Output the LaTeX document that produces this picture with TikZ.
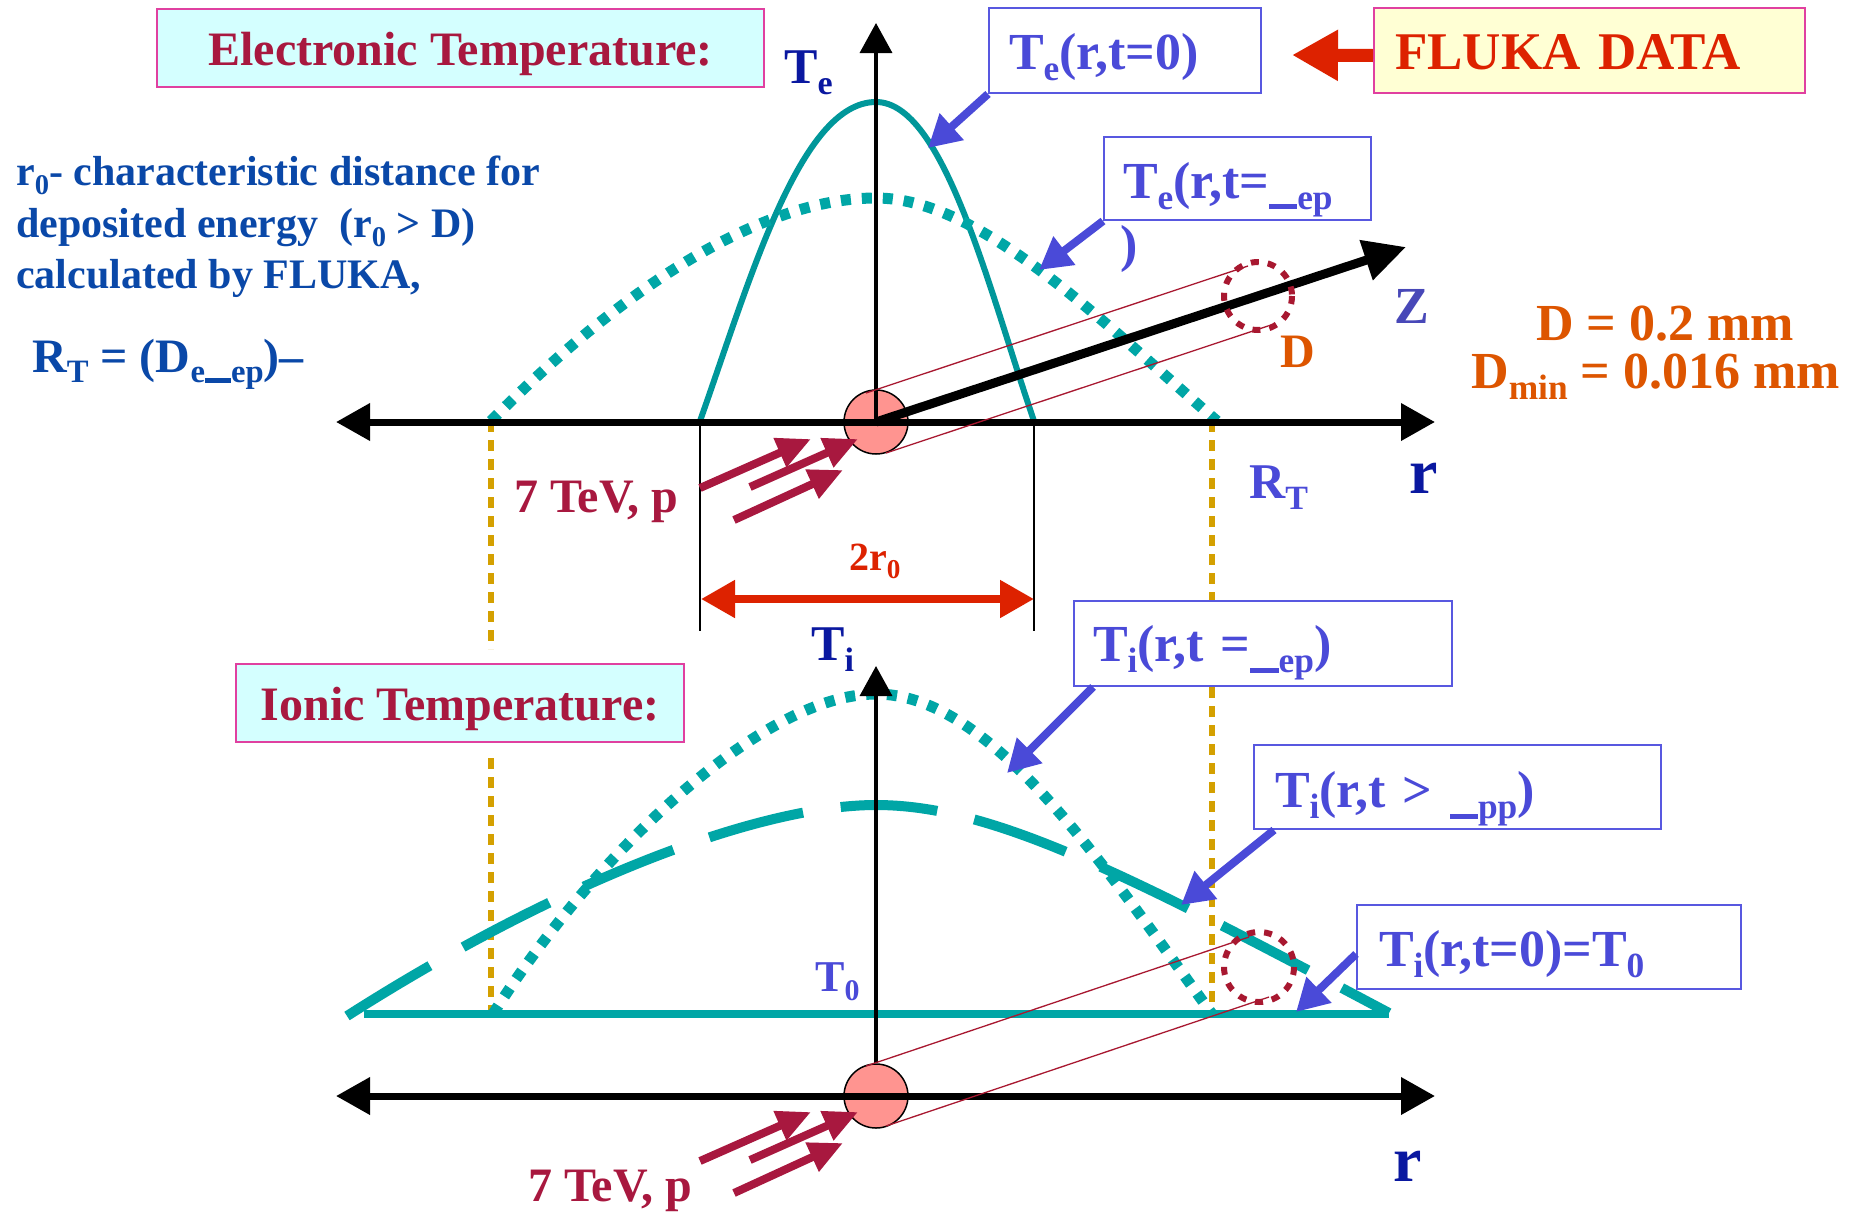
\documentclass[tikz,border=0pt]{standalone}
\usepackage{fontspec}
\setmainfont{Liberation Serif}
\usepackage{graphicx}
\usetikzlibrary{arrows.meta}
\definecolor{tealA}{HTML}{00979A}
\definecolor{tealB}{HTML}{00A6A6}
\definecolor{bluetext}{HTML}{4A4AD8}
\definecolor{boxblue}{HTML}{5858E0}
\definecolor{navy}{HTML}{0A18A0}
\definecolor{zblue}{HTML}{4848B8}
\definecolor{leftblue}{HTML}{0A48A8}
\definecolor{crimson}{HTML}{A8183F}
\definecolor{orangeD}{HTML}{DD5500}
\definecolor{redF}{HTML}{DD2200}
\definecolor{pinkc}{HTML}{FF9490}
\definecolor{magborder}{HTML}{E040A0}
\definecolor{cyanfill}{HTML}{D4FFFF}
\definecolor{yellfill}{HTML}{FFFFD4}
\definecolor{goldc}{HTML}{D4A000}
\definecolor{darkred}{HTML}{A81830}
\newcommand\mysub[1]{\raisebox{-0.22em}{\scalebox{0.68}{#1}}}
\newcommand\fsz[1]{\fontsize{#1}{#1}\selectfont\bfseries}
\newcommand\tbar{\rule{0.8em}{0.14em}}
\begin{document}
\begin{tikzpicture}[x=1pt,y=-1pt,
  lbl/.style={inner sep=0pt, anchor=base west},
  bluebox/.style={draw=boxblue, line width=2pt, fill=white, text=bluetext, anchor=north west, align=left, inner xsep=20pt, inner ysep=0pt, font=\fsz{52}, text height=38pt, text depth=0pt},
  pinkbox/.style={draw=magborder, line width=2pt, fill=cyanfill, text=crimson, anchor=north west, inner sep=0pt, font=\fsz{48}, text height=34pt, text depth=0pt},
  golddot/.style={goldc, line width=6pt, dash pattern=on 11pt off 8pt},
  tealdot/.style={tealB, line width=11pt, dash pattern=on 10pt off 11pt},
  tealdash/.style={tealB, line width=10pt, dash pattern=on 97pt off 38pt},
  callout/.style={bluetext, line width=8pt, -{Triangle[length=32pt,width=34pt]}},
  beam/.style={crimson, line width=8pt, -{Triangle[length=34pt,width=30pt]}},
  bigaxis/.style={black, line width=7pt, {Triangle[length=34pt,width=36pt]}-{Triangle[length=34pt,width=36pt]}},
  vaxis/.style={black, line width=3.5pt, -{Triangle[length=30pt,width=32pt]}},
  thinred/.style={darkred, line width=1.3pt},
  dcirc/.style={darkred, line width=6pt, dash pattern=on 8pt off 9pt},
  origin/.style={circle, draw=black, fill=pinkc, minimum size=64pt, inner sep=0pt, line width=1.5pt}
]
\fill[white] (0,0) rectangle (1867,1213);
\useasboundingbox (0,0) rectangle (1867,1213);

% coordinates
\coordinate (uL) at (336,422);
\coordinate (uR) at (1435,422);
\coordinate (lL) at (336,1096);
\coordinate (lR) at (1435,1096);
\coordinate (teTip) at (876,23);
\coordinate (tiTip) at (876,666);
\coordinate (zTip) at (1406,247);

% yellow dotted guides
\draw[golddot] (491,421) -- (491,649);
\draw[golddot] (491,758) -- (491,1012);
\draw[golddot] (1212,421) -- (1212,1013);

% upper curves
\draw[tealA, line width=6pt] (700,421) .. controls (750,280) and (800,102) .. (876,102) .. controls (944,102) and (989,290) .. (1034,421);
\draw[tealdot] (491,421) .. controls (620,290) and (760,198) .. (876,198) .. controls (980,198) and (1100,320) .. (1217,421);

% lower curves
\draw[tealB, line width=8pt] (364,1014) -- (1389,1014);
\draw[tealdash] (347,1016) .. controls (560,880) and (760,805) .. (876,805) .. controls (990,805) and (1120,870) .. (1389,1013);
\draw[tealdot] (493,1014) .. controls (590,860) and (760,694) .. (876,694) .. controls (990,694) and (1100,860) .. (1212,1014);

% 2r0 guides
\draw[line width=1.2pt] (700,421) -- (700,631);
\draw[line width=1.2pt] (1034,421) -- (1034,631);
\coordinate (rA) at (701,599);
\coordinate (rB) at (1034,599);
\draw[redF, line width=8pt, {Triangle[length=34pt,width=36pt]}-{Triangle[length=34pt,width=36pt]}] (rA) -- (rB);

% boxes
\node[pinkbox, minimum width=607pt, minimum height=78pt] (elbox) at (156,8) {Electronic Temperature:};
\node[pinkbox, minimum width=448pt, minimum height=78pt] (ionbox) at (235,663) {Ionic Temperature:};
\node[draw=magborder, line width=2pt, fill=yellfill, text=redF, anchor=north west, align=left, inner xsep=21pt, inner ysep=0pt, font=\fsz{53}, text height=37pt, text depth=0pt, text width=389pt, minimum height=85pt] (fl) at (1373,7) {FLUKA DATA};
\node[bluebox, text width=232pt, minimum height=85pt, text height=37pt] (b1) at (988,7) {T\mysub{e}(r,t=0)};
\node[bluebox, text width=229pt, minimum height=83pt, inner xsep=19pt, text height=39pt] (b2) at (1103,136) {T\mysub{e}(r,t=\mysub{\tbar ep}};
\node[bluebox, text width=340pt, minimum height=85pt, inner xsep=19pt, text height=36pt] (b3) at (1073,600) {T\mysub{i}(r,t =\mysub{\tbar ep})};
\node[bluebox, text width=365pt, minimum height=84pt, inner xsep=21pt, text height=41pt] (b4) at (1253,744) {T\mysub{i}(r,t > \mysub{\tbar pp})};
\node[bluebox, text width=340pt, minimum height=84pt, inner xsep=22pt] (b5) at (1356,904) {T\mysub{i}(r,t=0)=T\mysub{0}};

% FLUKA arrow
\coordinate (ftip) at (1292,55);
\draw[redF, line width=13pt, -{Triangle[length=46pt,width=48pt]}] ([yshift=-5pt]fl.west) -- (ftip);

% callout arrows
\coordinate (c1) at (928,148);
\coordinate (c2) at (1039,270);
\coordinate (c3) at (1007,773);
\coordinate (c4) at (1181,905);
\coordinate (c5) at (1296,1012);
\draw[callout] (b1.south west) -- (c1);
\draw[callout] (b2.south west) -- (c2);
\draw[callout] ([xshift=20pt]b3.south west) -- (c3);
\draw[callout] ([xshift=21pt]b4.south west) -- (c4);
\draw[callout] ([yshift=-7pt]b5.west) -- (c5);

% upper axes
\node[origin] (o1) at (876,422) {};
\draw[bigaxis] (uL) -- (uR);
\draw[vaxis] (o1.center) -- (teTip);
\draw[black, line width=9pt, -{Triangle[length=42pt,width=40pt]}] (o1.center) -- (zTip);
\coordinate (ua1) at (866,393); \coordinate (ua2) at (1248,266);
\coordinate (ub1) at (886,453); \coordinate (ub2) at (1268,326);
\draw[thinred] (ua1) -- (ua2);
\draw[thinred] (ub1) -- (ub2);
\draw[dcirc] (1258,296) circle (34);

% lower axes
\node[origin] (o2) at (876,1096) {};
\draw[bigaxis] (lL) -- (lR);
\draw[vaxis] (o2.north) -- (tiTip);
\coordinate (la1) at (866,1066); \coordinate (la2) at (1249,937);
\coordinate (lb1) at (886,1126); \coordinate (lb2) at (1269,997);
\draw[thinred] (la1) -- (la2);
\draw[thinred] (lb1) -- (lb2);
\draw[dcirc] (1259,967) circle (35);

% beams
\coordinate (p1s) at (700,488); \coordinate (p1e) at (811,439);
\coordinate (p2s) at (750,487); \coordinate (p2e) at (858,439);
\coordinate (p3s) at (734,520); \coordinate (p3e) at (843,470);
\draw[beam] (p1s) -- (p1e);
\draw[beam] (p2s) -- (p2e);
\draw[beam] (p3s) -- (p3e);
\coordinate (q1s) at (700,1161); \coordinate (q1e) at (811,1112);
\coordinate (q2s) at (750,1160); \coordinate (q2e) at (858,1112);
\coordinate (q3s) at (734,1193); \coordinate (q3e) at (843,1143);
\draw[beam] (q1s) -- (q1e);
\draw[beam] (q2s) -- (q2e);
\draw[beam] (q3s) -- (q3e);

% labels
\node[lbl, text=navy, font=\fsz{50}] (teL) at (784,83) {T\mysub{e}};
\node[lbl, text=navy, font=\fsz{50}] (tiL) at (811,660) {T\mysub{i}};
\node[lbl, text=leftblue, font=\fsz{42}] (t1) at (16,185) {r\mysub{0}- characteristic distance for};
\node[lbl, text=leftblue, font=\fsz{42}] (t2) at (16,237) {deposited energy~~(r\mysub{0} > D)};
\node[lbl, text=leftblue, font=\fsz{42}] (t3) at (16,288) {calculated by FLUKA,};
\node[lbl, text=leftblue, font=\fsz{48}] (rt) at (32,372) {R\mysub{T} = (D\mysub{e\tbar ep})\textendash};
\node[lbl, text=zblue, font=\fsz{52}] (zL) at (1394,323) {Z};
\node[lbl, text=orangeD, font=\fsz{48}] (dL) at (1280,367) {D};
\node[lbl, text=orangeD, font=\fsz{52}] (d1) at (1536,340) {D = 0.2 mm};
\node[lbl, text=orangeD, font=\fsz{52}] (d2) at (1471,388) {D\mysub{min} = 0.016 mm};
\node[lbl, text=crimson, font=\fsz{48}] (pl1) at (514,512) {7 TeV, p};
\node[lbl, text=crimson, font=\fsz{48}] (pl2) at (528,1201) {7 TeV, p};
\node[lbl, text=bluetext, font=\fsz{50}] (rtL) at (1249,498) {R\mysub{T}};
\node[lbl, text=navy, font=\fsz{64}] (r1) at (1409,493) {r};
\node[lbl, text=navy, font=\fsz{64}] (r2) at (1393,1181) {r};
\node[lbl, text=redF, font=\fsz{40}] (r0L) at (849,570) {2r\mysub{0}};
\node[lbl, text=bluetext, font=\fsz{44}] (t0L) at (815,991) {T\mysub{0}};
\node[lbl, text=bluetext, font=\fsz{52}] (paren) at (1120,261) {)};
\end{tikzpicture}
\end{document}
